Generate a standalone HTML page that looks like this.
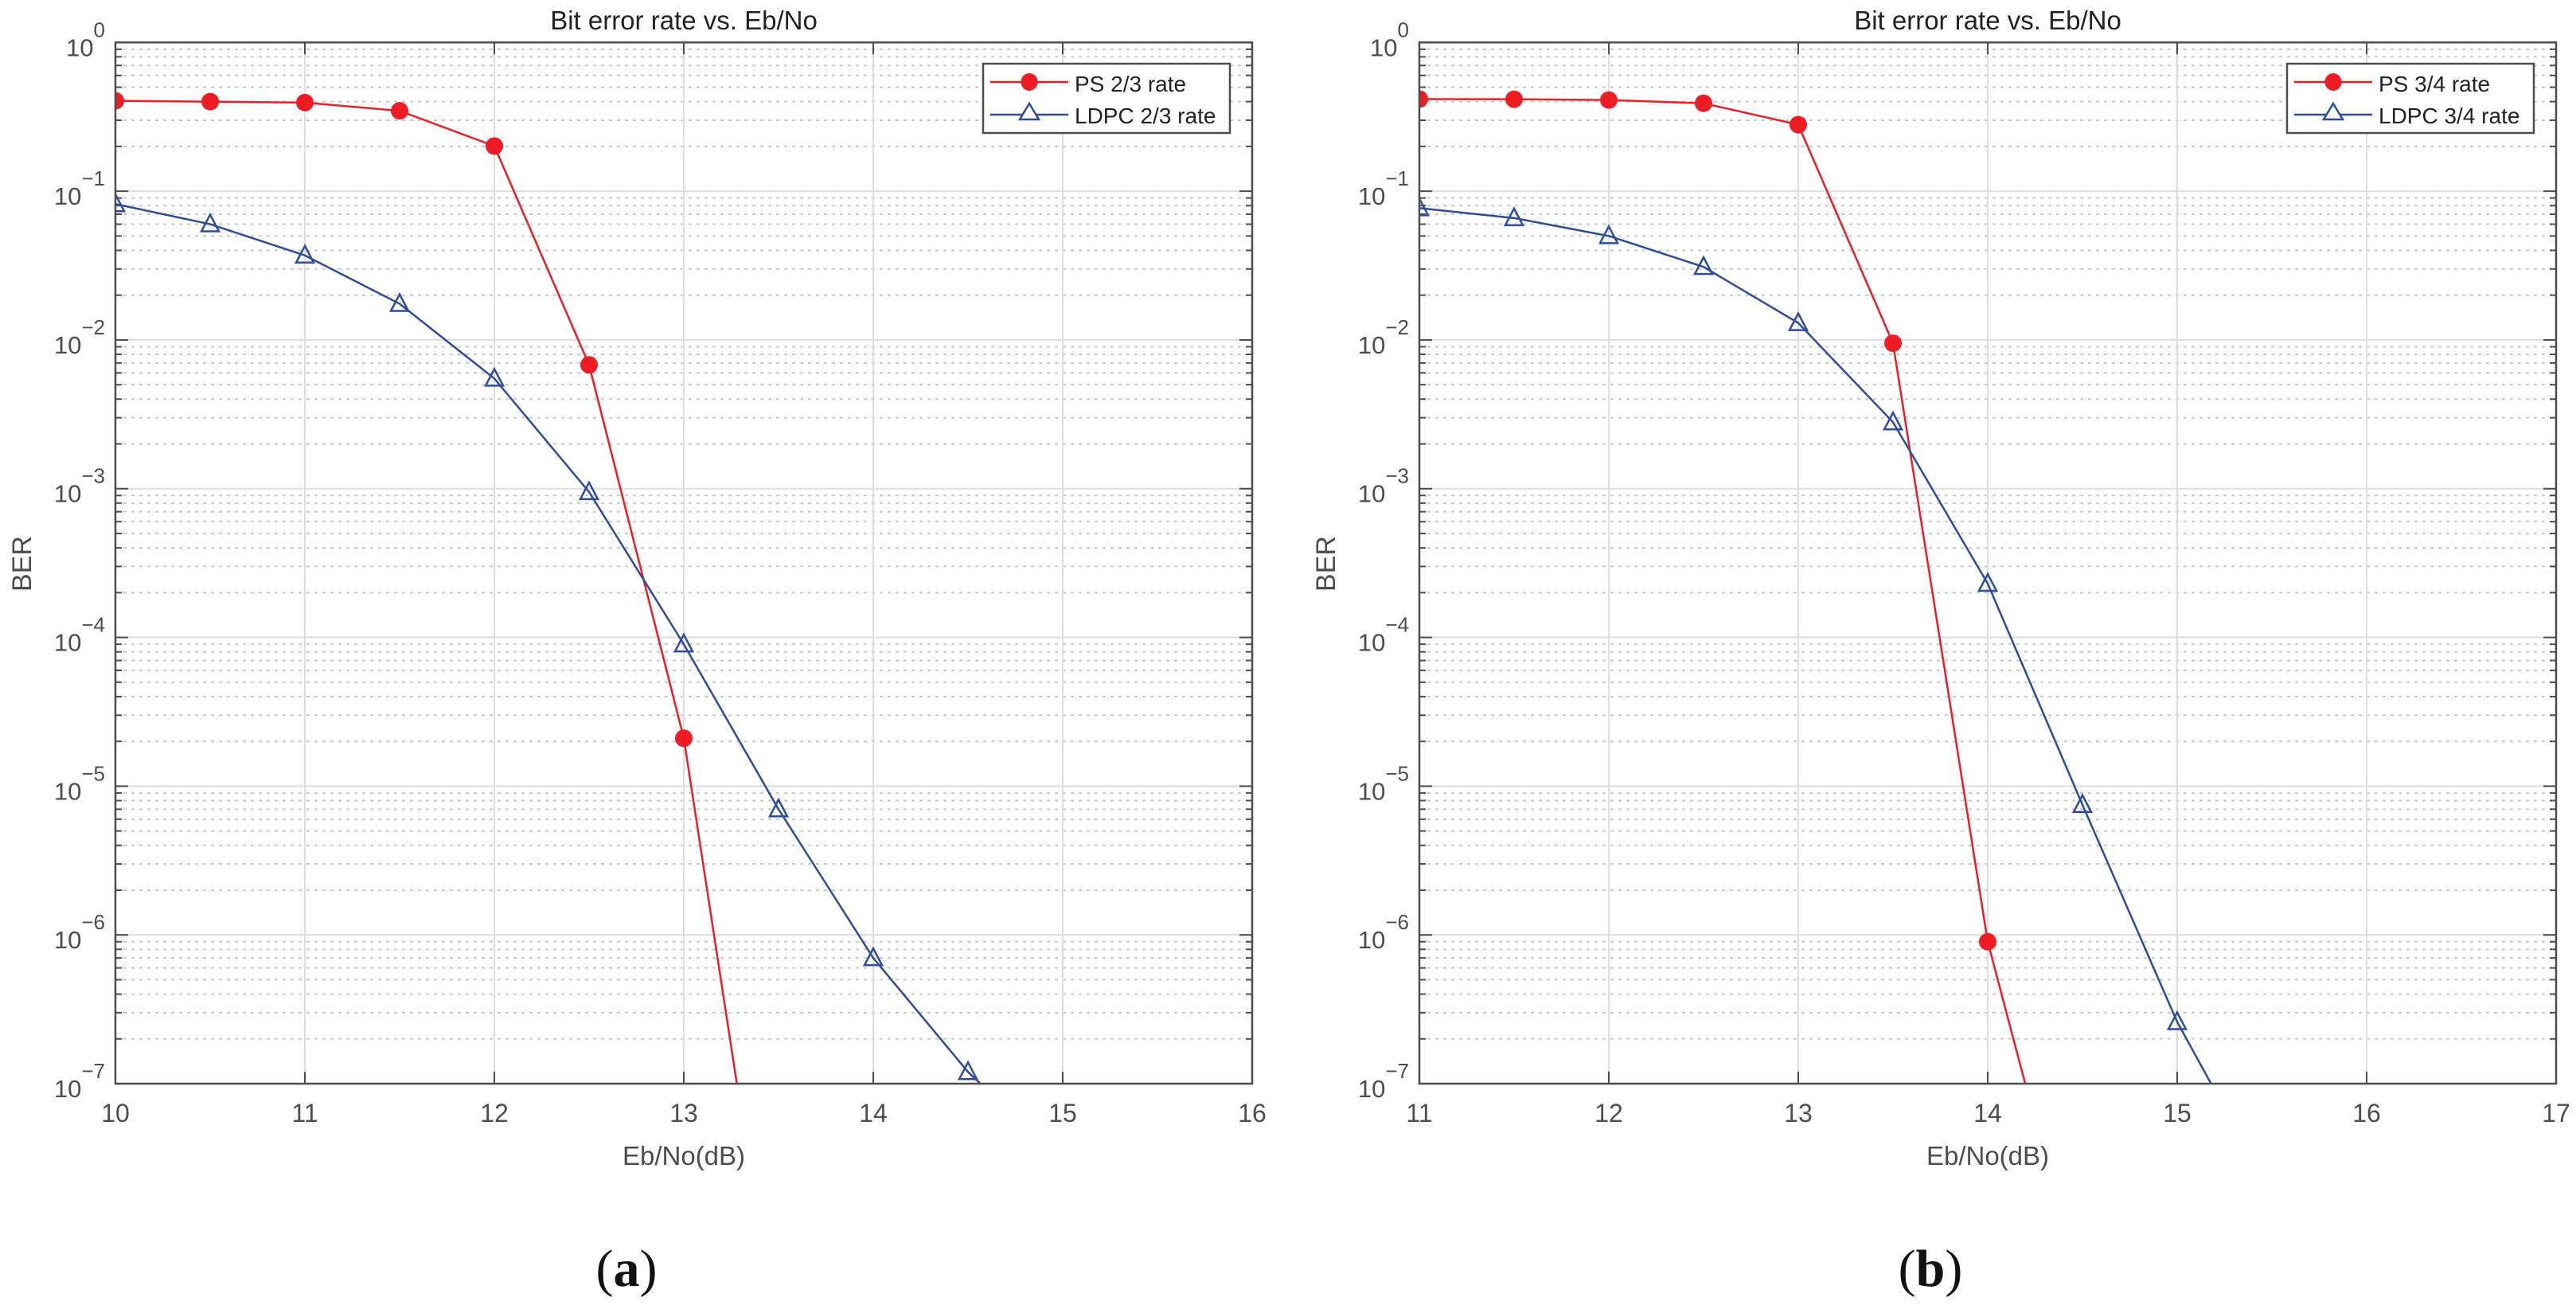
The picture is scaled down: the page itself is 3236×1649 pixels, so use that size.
<!DOCTYPE html>
<html><head><meta charset="utf-8"><style>
html,body{margin:0;padding:0;background:#fff;}
svg{display:block;font-family:"Liberation Sans",sans-serif;}
</style></head><body>
<svg id="fig" width="3236" height="1649" viewBox="0 0 3236 1649" xmlns="http://www.w3.org/2000/svg"></svg>
<script>
// ---- Panel (a) data ----
const xA = [10, 10.5, 11, 11.5, 12, 12.5, 13, 13.5];
const psA = [0.405, 0.40, 0.394, 0.347, 0.201, 0.0068, 0.000021, 1.5e-9];
const xLA = [10, 10.5, 11, 11.5, 12, 12.5, 13, 13.5, 14, 14.5, 15];
const ldpcA = [0.082, 0.060, 0.037, 0.0175, 0.0055, 0.00095, 0.00009, 0.000007, 7e-7, 1.2e-7, 3e-8];
const xTicksA = [10, 11, 12, 13, 14, 15, 16];
// ---- Panel (b) data ----
const xB = [11, 11.5, 12, 12.5, 13, 13.5, 14, 14.5];
const psB = [0.416, 0.415, 0.41, 0.39, 0.28, 0.0095, 9e-7, 3.5e-9];
const xLB = [11, 11.5, 12, 12.5, 13, 13.5, 14, 14.5, 15, 15.5];
const ldpcB = [0.077, 0.066, 0.050, 0.031, 0.013, 0.0028, 0.00023, 0.0000075, 2.6e-7, 1.8e-8];
const xTicksB = [11, 12, 13, 14, 15, 16, 17];
const yExps = [0, -1, -2, -3, -4, -5, -6, -7];

const NS = "http://www.w3.org/2000/svg";
const svg = document.getElementById('fig');
function mk(tag, attrs, parent) {
  const e = document.createElementNS(NS, tag);
  for (const k in attrs) e.setAttribute(k, attrs[k]);
  (parent || svg).appendChild(e);
  return e;
}
const TOP = 53.3, BOT = 1361, AXC = '#4d4d4d';
const RED = '#ee1c25', BLUE = '#2e4b9e';

function panel(id, left, xmin, xmax, xTicks, xs1, ys1, xs2, ys2, lab1, lab2, letter, legLeft) {
  const right = left + 1428;
  const g = mk('g', {});
  
  
  const X = v => left + (v - xmin) / (xmax - xmin) * (right - left);
  const Y = v => TOP + (-Math.log10(v)) / 7 * (BOT - TOP);
  for (let d = 0; d < 7; d++) {
    for (let m = 2; m <= 9; m++) {
      const y = Y(m * Math.pow(10, -(d + 1)));
      const l = mk('line', {x1: left, x2: right, y1: y, y2: y, stroke: '#c8c8c8', 'stroke-width': 2, 'stroke-dasharray': '4 6'}, g);
      
      
      mk('line', {x1: left, x2: left + 8, y1: y, y2: y, stroke: AXC, 'stroke-width': 2}, g);
      mk('line', {x1: right, x2: right - 8, y1: y, y2: y, stroke: AXC, 'stroke-width': 2}, g);
    }
  }
  yExps.forEach(e => {
    const y = Y(Math.pow(10, e));
    const l = mk('line', {x1: left, x2: right, y1: y, y2: y, stroke: '#dedede', 'stroke-width': 2}, g);
    
    
    mk('line', {x1: left, x2: left + 16, y1: y, y2: y, stroke: AXC, 'stroke-width': 2}, g);
    mk('line', {x1: right, x2: right - 16, y1: y, y2: y, stroke: AXC, 'stroke-width': 2}, g);
    const t = mk('text', {x: left - 13, y: y + 17, 'text-anchor': 'end', 'font-size': 31, fill: AXC}, g);
    
    
    const t1 = mk('tspan', {}, t); t1.textContent = '10';
    const t2 = mk('tspan', {'font-size': 26, dy: -24}, t); t2.textContent = (e < 0 ? '\u2212' + (-e) : '' + e);
  });
  xTicks.forEach(v => {
    const x = X(v);
    const l = mk('line', {x1: x, x2: x, y1: TOP, y2: BOT, stroke: '#dedede', 'stroke-width': 2}, g);
    
    
    mk('line', {x1: x, x2: x, y1: BOT, y2: BOT - 15, stroke: AXC, 'stroke-width': 2}, g);
    mk('line', {x1: x, x2: x, y1: TOP, y2: TOP + 15, stroke: AXC, 'stroke-width': 2}, g);
    const t = mk('text', {x: x, y: BOT + 48, 'text-anchor': 'middle', 'font-size': 32, fill: AXC}, g);
    t.textContent = v;
    
    
  });
  const cp = mk('clipPath', {id: 'clip' + id}, g);
  mk('rect', {x: left, y: TOP, width: right - left, height: BOT - TOP}, cp);
  const data = mk('g', {'clip-path': 'url(#clip' + id + ')'}, g);
  const p1 = mk('polyline', {points: xs1.map((v, i) => X(v) + ',' + Y(ys1[i])).join(' '), fill: 'none', stroke: RED, 'stroke-width': 2.5}, data);
  
  
  xs1.forEach((v, i) => {
    const c = mk('ellipse', {cx: X(v), cy: Y(ys1[i]), rx: 11, ry: 11, fill: RED}, data);
    
    
  });
  const p2 = mk('polyline', {points: xs2.map((v, i) => X(v) + ',' + Y(ys2[i])).join(' '), fill: 'none', stroke: BLUE, 'stroke-width': 2.5}, data);
  
  
  xs2.forEach((v, i) => {
    const cx = X(v), cy = Y(ys2[i]);
    const tr = mk('polygon', {points: (cx) + ',' + (cy - 12) + ' ' + (cx - 11) + ',' + (cy + 9) + ' ' + (cx + 11) + ',' + (cy + 9), fill: 'none', stroke: BLUE, 'stroke-width': 2.5}, data);
    
    
  });
  const box = mk('rect', {x: left, y: TOP, width: right - left, height: BOT - TOP, fill: 'none', stroke: AXC, 'stroke-width': 2.5}, g);
  
  
  const ti = mk('text', {x: (left + right) / 2, y: 37, 'text-anchor': 'middle', 'font-size': 33, fill: '#222'}, g);
  ti.textContent = 'Bit error rate vs. Eb/No';
  
  
  const xl = mk('text', {x: (left + right) / 2, y: 1463, 'text-anchor': 'middle', 'font-size': 33, fill: AXC}, g);
  xl.textContent = 'Eb/No(dB)';
  
  
  const yl = mk('text', {x: 0, y: 0, 'text-anchor': 'middle', 'font-size': 34, fill: AXC, transform: 'translate(' + (left - 106) + ',708) rotate(-90)'}, g);
  yl.textContent = 'BER';
  
  
  const lt = mk('text', {x: (left + right) / 2 - 72, y: 1615, 'text-anchor': 'middle', 'font-size': 66, fill: '#111', 'font-family': '"Liberation Serif", serif'}, g);
  
  
  const a = mk('tspan', {}, lt); a.textContent = '(';
  const b = mk('tspan', {'font-weight': 'bold'}, lt); b.textContent = letter;
  const c = mk('tspan', {}, lt); c.textContent = ')';
  const lg = mk('g', {}, g);
  
  
  mk('rect', {x: legLeft, y: 80, width: 310, height: 87, fill: '#fff', stroke: AXC, 'stroke-width': 2.5}, lg);
  const e1 = mk('g', {}, lg);
  
  
  mk('line', {x1: legLeft + 9, x2: legLeft + 107, y1: 103, y2: 103, stroke: RED, 'stroke-width': 2.5}, e1);
  mk('ellipse', {cx: legLeft + 58, cy: 103, rx: 10.5, ry: 11, fill: RED}, e1);
  const tt1 = mk('text', {x: legLeft + 115, y: 115, 'font-size': 28, fill: '#222'}, e1);
  tt1.textContent = lab1;
  const e2 = mk('g', {}, lg);
  
  
  mk('line', {x1: legLeft + 9, x2: legLeft + 107, y1: 144, y2: 144, stroke: BLUE, 'stroke-width': 2.5}, e2);
  mk('polygon', {points: (legLeft + 58) + ',130 ' + (legLeft + 46) + ',150 ' + (legLeft + 70) + ',150', fill: '#fff', stroke: BLUE, 'stroke-width': 2.5}, e2);
  const tt2 = mk('text', {x: legLeft + 115, y: 155, 'font-size': 28, fill: '#222'}, e2);
  tt2.textContent = lab2;
}
panel('a', 145, 10, 16, xTicksA, xA, psA, xLA, ldpcA, 'PS 2/3 rate', 'LDPC 2/3 rate', 'a', 1235);
panel('b', 1783, 11, 17, xTicksB, xB, psB, xLB, ldpcB, 'PS 3/4 rate', 'LDPC 3/4 rate', 'b', 2873);
</script>
</body></html>
